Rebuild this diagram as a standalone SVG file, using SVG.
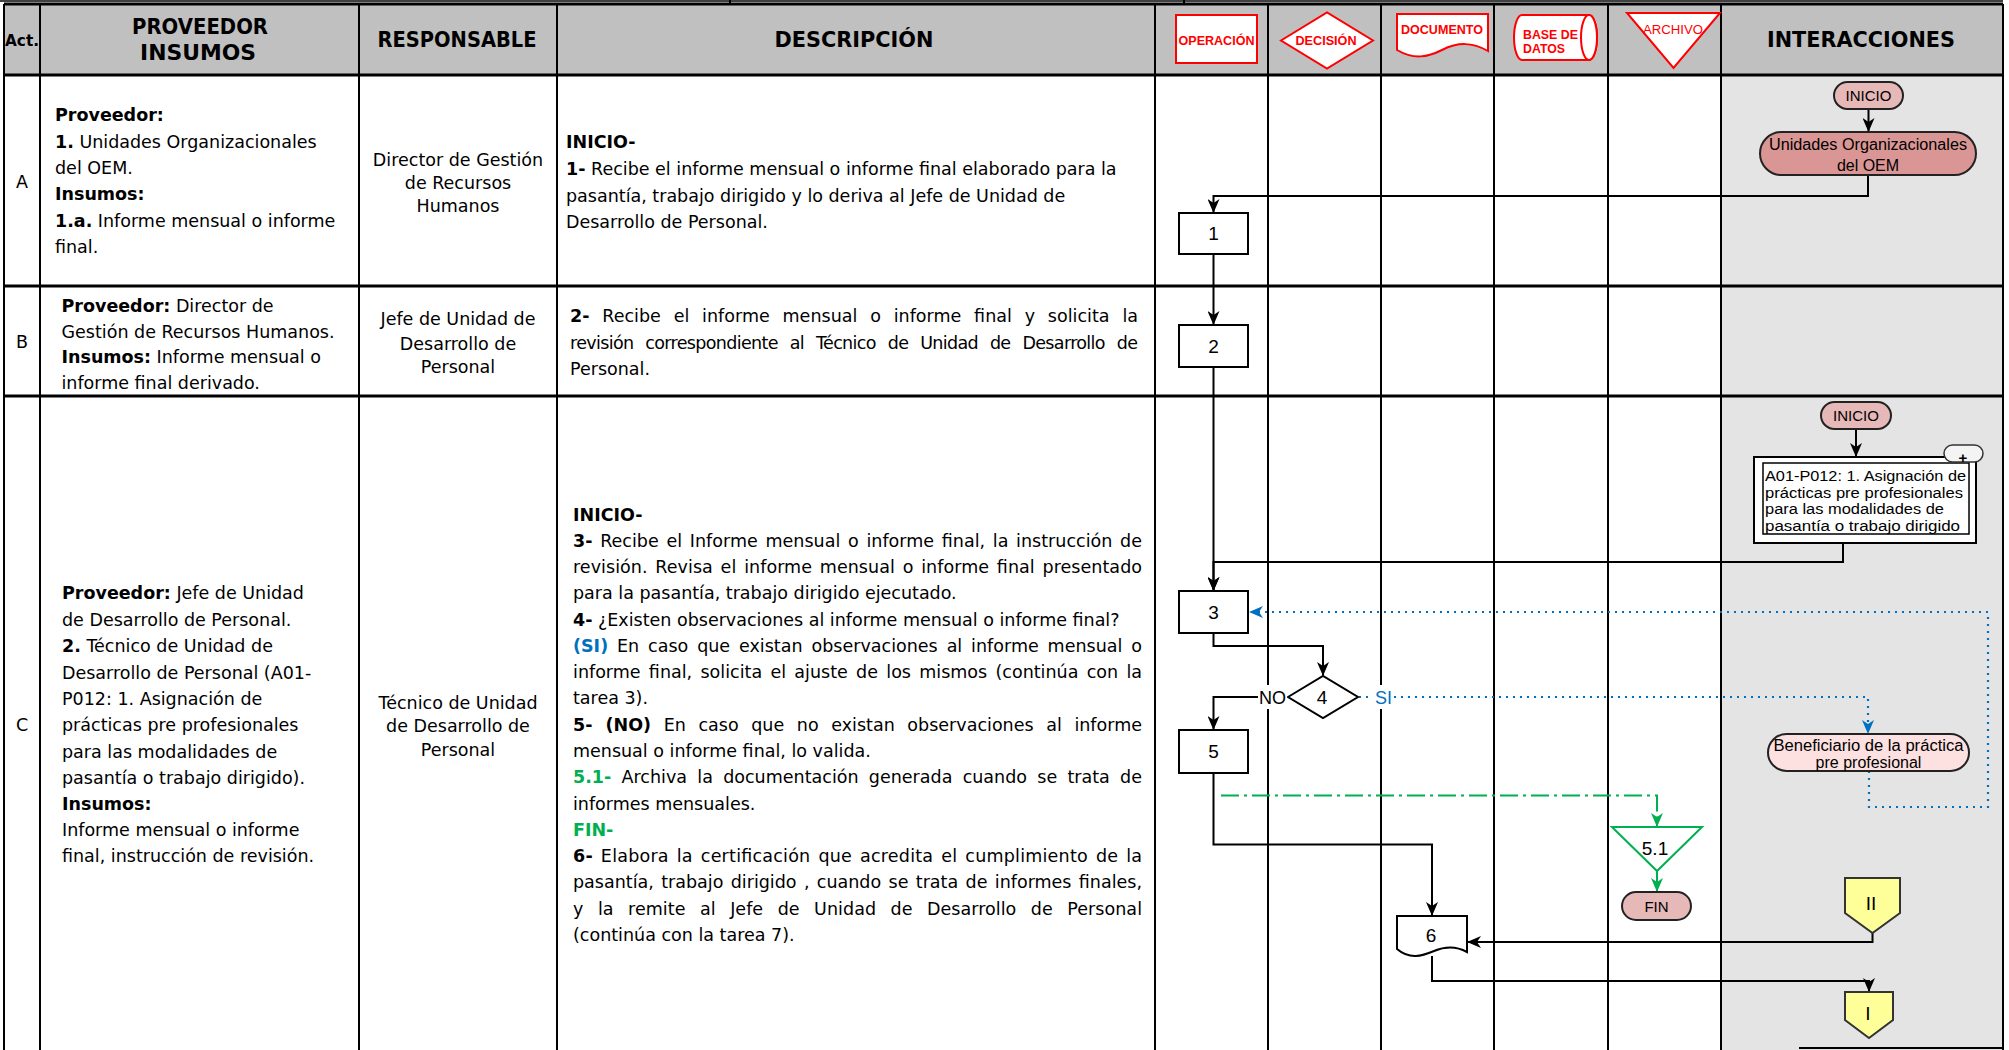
<svg xmlns="http://www.w3.org/2000/svg" width="2009" height="1050" viewBox="0 0 2009 1050">
<defs>
<style>
.t{font-family:"DejaVu Sans",Verdana,sans-serif;font-size:17.5px;fill:#000}
.c{text-anchor:middle}
.b{font-weight:bold}
.hd{font-family:"DejaVu Sans",Verdana,sans-serif;font-size:20.5px;font-weight:bold;text-anchor:middle;fill:#000}
.ic{font-family:"Liberation Sans",Arial,sans-serif;font-size:12px;font-weight:bold;fill:#ff0000}
.icm{text-anchor:middle}
.ics{fill:#fff;stroke:#ff0000;stroke-width:2}
.fc{font-family:"Liberation Sans",Arial,sans-serif;fill:#000;text-anchor:middle}
.box{fill:#fff;stroke:#000;stroke-width:2}
.pill{fill:#e6b8b7;stroke:#222;stroke-width:2}
.off{fill:#ffff99;stroke:#333;stroke-width:2}
.ln{fill:none;stroke:#000;stroke-width:2}
.lng{fill:none;stroke:#00b050;stroke-width:2}
.bl{fill:none;stroke:#0070c0;stroke-width:2.2;stroke-dasharray:2 5}
.gr{fill:none;stroke:#00b050;stroke-width:2;stroke-dasharray:18 5 3 5}
.gv{stroke:#000;stroke-width:2}
.gh{stroke:#000;stroke-width:3}
</style>
<marker id="ab" viewBox="0 0 14 12" refX="13" refY="6" markerWidth="14" markerHeight="12" markerUnits="userSpaceOnUse" orient="auto"><path d="M0,0 L14,6 L0,12 L4,6 Z" fill="#000"/></marker>
<marker id="abl" viewBox="0 0 14 12" refX="13" refY="6" markerWidth="14" markerHeight="12" markerUnits="userSpaceOnUse" orient="auto"><path d="M0,0 L14,6 L0,12 L4,6 Z" fill="#0070c0"/></marker>
<marker id="agr" viewBox="0 0 14 12" refX="13" refY="6" markerWidth="14" markerHeight="12" markerUnits="userSpaceOnUse" orient="auto"><path d="M0,0 L14,6 L0,12 L4,6 Z" fill="#00b050"/></marker>
</defs>

<g id="table">
<rect x="0" y="0" width="2009" height="1050" fill="#fff"/>
<rect x="4" y="4" width="1999" height="71" fill="#c0c0c0"/>
<rect x="1721" y="75" width="282" height="975" fill="#e4e4e4"/>
<line x1="0" y1="1" x2="2003" y2="1" stroke="#000" stroke-width="1.5"/>
<line x1="730" y1="0" x2="730" y2="4" class="gv"/>
<line x1="1184" y1="0" x2="1184" y2="4" class="gv"/>
<line x1="4" y1="4" x2="2003" y2="4" class="gh"/>
<line x1="4" y1="75" x2="2003" y2="75" class="gh"/>
<line x1="4" y1="286" x2="2003" y2="286" class="gh"/>
<line x1="4" y1="396" x2="2003" y2="396" class="gh"/>
<line x1="4" y1="4" x2="4" y2="1050" class="gv"/>
<line x1="40" y1="4" x2="40" y2="1050" class="gv"/>
<line x1="359" y1="4" x2="359" y2="1050" class="gv"/>
<line x1="557" y1="4" x2="557" y2="1050" class="gv"/>
<line x1="1155" y1="4" x2="1155" y2="1050" class="gv"/>
<line x1="1268" y1="4" x2="1268" y2="1050" class="gv"/>
<line x1="1381" y1="4" x2="1381" y2="1050" class="gv"/>
<line x1="1494" y1="4" x2="1494" y2="1050" class="gv"/>
<line x1="1608" y1="4" x2="1608" y2="1050" class="gv"/>
<line x1="1721" y1="4" x2="1721" y2="1050" class="gv"/>
<line x1="2003" y1="4" x2="2003" y2="1050" class="gv"/>
<line x1="1799" y1="1048" x2="2003" y2="1048" class="gv"/>
</g>

<g id="header">
<text class="hd" x="22" y="46" style="font-size:16px" textLength="34" lengthAdjust="spacingAndGlyphs">Act.</text>
<text class="hd" x="200" y="33.5" textLength="136" lengthAdjust="spacingAndGlyphs">PROVEEDOR</text>
<text class="hd" x="198" y="59.5" textLength="116" lengthAdjust="spacingAndGlyphs">INSUMOS</text>
<text class="hd" x="457" y="47" textLength="159" lengthAdjust="spacingAndGlyphs">RESPONSABLE</text>
<text class="hd" x="854" y="47" textLength="159" lengthAdjust="spacingAndGlyphs">DESCRIPCIÓN</text>
<text class="hd" x="1861" y="47" textLength="188" lengthAdjust="spacingAndGlyphs">INTERACCIONES</text>
<g id="icon-operacion"><rect class="ics" x="1176" y="15" width="81" height="48"/><text class="ic icm" x="1216.5" y="44.5" textLength="76" lengthAdjust="spacingAndGlyphs">OPERACIÓN</text></g>
<g id="icon-decision"><polygon class="ics" points="1281,40.5 1327,12.5 1373,40.5 1327,68.5"/><text class="ic icm" x="1326" y="45" textLength="61" lengthAdjust="spacingAndGlyphs">DECISIÓN</text></g>
<g id="icon-documento"><path class="ics" d="M1397,14 H1488 V51 C1472,42 1458,42 1442,50 C1428,57 1414,60 1397,50 Z"/><text class="ic icm" x="1442" y="33.5" textLength="82" lengthAdjust="spacingAndGlyphs">DOCUMENTO</text></g>
<g id="icon-basedatos"><path class="ics" d="M1522,15 H1589 A8,22.5 0 0 1 1589,60 H1522 A8,22.5 0 0 1 1522,15 Z"/><ellipse class="ics" cx="1589" cy="37.5" rx="8" ry="22.5"/><text class="ic" x="1523" y="38.5" style="font-size:12.5px" textLength="55" lengthAdjust="spacingAndGlyphs">BASE DE</text><text class="ic" x="1523" y="52.5" style="font-size:12.5px" textLength="42" lengthAdjust="spacingAndGlyphs">DATOS</text></g>
<g id="icon-archivo"><polygon class="ics" points="1627,13 1720,13 1673.5,68"/><text class="ic icm" x="1673" y="33.5" style="font-weight:normal" textLength="60" lengthAdjust="spacingAndGlyphs">ARCHIVO</text></g>
</g>

<g id="row-A">
<text class="t c" x="22" y="188">A</text>
<text class="t" x="55" y="121"><tspan class="b">Proveedor:</tspan></text>
<text class="t" x="55" y="147.5"><tspan class="b">1.</tspan> Unidades Organizacionales</text>
<text class="t" x="55" y="174">del OEM.</text>
<text class="t b" x="55" y="200">Insumos:</text>
<text class="t" x="55" y="226.5"><tspan class="b">1.a.</tspan> Informe mensual o informe</text>
<text class="t" x="55" y="252.5">final.</text>
<text class="t c" x="458" y="166">Director de Gestión</text>
<text class="t c" x="458" y="189">de Recursos</text>
<text class="t c" x="458" y="212">Humanos</text>
<text class="t b" x="566" y="148">INICIO-</text>
<text class="t" x="566" y="175"><tspan class="b">1-</tspan> Recibe el informe mensual o informe final elaborado para la</text>
<text class="t" x="566" y="201.5">pasantía, trabajo dirigido y lo deriva al Jefe de Unidad de</text>
<text class="t" x="566" y="227.5">Desarrollo de Personal.</text>
</g>

<g id="row-B">
<text class="t c" x="22" y="348">B</text>
<text class="t" x="61.5" y="312"><tspan class="b">Proveedor:</tspan> Director de</text>
<text class="t" x="61.5" y="337.5">Gestión de Recursos Humanos.</text>
<text class="t" x="61.5" y="363"><tspan class="b">Insumos:</tspan> Informe mensual o</text>
<text class="t" x="61.5" y="389">informe final derivado.</text>
<text class="t c" x="458" y="325">Jefe de Unidad de</text>
<text class="t c" x="458" y="349.5">Desarrollo de</text>
<text class="t c" x="458" y="373">Personal</text>
<text class="t" x="570" y="322" word-spacing="7.2" textLength="568"><tspan class="b">2-</tspan> Recibe el informe mensual o informe final y solicita la</text>
<text class="t" x="570" y="348.5" word-spacing="7" textLength="568">revisión correspondiente al Técnico de Unidad de Desarrollo de</text>
<text class="t" x="570" y="375">Personal.</text>
</g>

<g id="row-C">
<text class="t c" x="22" y="731">C</text>
<text class="t" x="62" y="599"><tspan class="b">Proveedor:</tspan> Jefe de Unidad</text>
<text class="t" x="62" y="625.5">de Desarrollo de Personal.</text>
<text class="t" x="62" y="652"><tspan class="b">2.</tspan> Técnico de Unidad de</text>
<text class="t" x="62" y="678.5">Desarrollo de Personal (A01-</text>
<text class="t" x="62" y="704.5">P012: 1. Asignación de</text>
<text class="t" x="62" y="731">prácticas pre profesionales</text>
<text class="t" x="62" y="757.5">para las modalidades de</text>
<text class="t" x="62" y="783.5">pasantía o trabajo dirigido).</text>
<text class="t b" x="62" y="809.5">Insumos:</text>
<text class="t" x="62" y="836">Informe mensual o informe</text>
<text class="t" x="62" y="862">final, instrucción de revisión.</text>
<text class="t c" x="458" y="708.5">Técnico de Unidad</text>
<text class="t c" x="458" y="732">de Desarrollo de</text>
<text class="t c" x="458" y="756">Personal</text>
<text class="t b" x="573" y="520.5">INICIO-</text>
<text class="t" x="573" y="546.8" word-spacing="2.1" textLength="569"><tspan class="b">3-</tspan> Recibe el Informe mensual o informe final, la instrucción de</text>
<text class="t" x="573" y="573" word-spacing="2.2" textLength="569">revisión. Revisa el informe mensual o informe final presentado</text>
<text class="t" x="573" y="599.3">para la pasantía, trabajo dirigido ejecutado.</text>
<text class="t" x="573" y="625.6"><tspan class="b">4-</tspan> ¿Existen observaciones al informe mensual o informe final?</text>
<text class="t" x="573" y="651.9" word-spacing="3.3" textLength="569"><tspan class="b" style="fill:#0070c0">(SI)</tspan> En caso que existan observaciones al informe mensual o</text>
<text class="t" x="573" y="678.1" word-spacing="2.7" textLength="569">informe final, solicita el ajuste de los mismos (continúa con la</text>
<text class="t" x="573" y="704.4">tarea 3).</text>
<text class="t" x="573" y="730.7" word-spacing="7" textLength="569"><tspan class="b">5- (NO)</tspan> En caso que no existan observaciones al informe</text>
<text class="t" x="573" y="756.9">mensual o informe final, lo valida.</text>
<text class="t" x="573" y="783.2" word-spacing="4.7" textLength="569"><tspan class="b" style="fill:#00b050">5.1-</tspan> Archiva la documentación generada cuando se trata de</text>
<text class="t" x="573" y="809.5">informes mensuales.</text>
<text class="t b" x="573" y="835.7" style="fill:#00b050">FIN-</text>
<text class="t" x="573" y="862" word-spacing="2.2" textLength="569"><tspan class="b">6-</tspan> Elabora la certificación que acredita el cumplimiento de la</text>
<text class="t" x="573" y="888.3" word-spacing="1.8" textLength="569">pasantía, trabajo dirigido , cuando se trata de informes finales,</text>
<text class="t" x="573" y="914.6" word-spacing="8.9" textLength="569">y la remite al Jefe de Unidad de Desarrollo de Personal</text>
<text class="t" x="573" y="940.8">(continúa con la tarea 7).</text>
</g>

<g id="connectors">
<path class="ln" d="M1868.5,109 V131" marker-end="url(#ab)"/>
<path class="ln" d="M1868,175 V196 H1213.5 V212" marker-end="url(#ab)"/>
<path class="ln" d="M1213.5,254 V324" marker-end="url(#ab)"/>
<path class="ln" d="M1213.5,367 V590" marker-end="url(#ab)"/>
<path class="ln" d="M1856,429 V456" marker-end="url(#ab)"/>
<path class="ln" d="M1843,543 V562 H1213.5 V590" marker-end="url(#ab)"/>
<path class="ln" d="M1213.5,633 V646 H1323 V675" marker-end="url(#ab)"/>
<path class="ln" d="M1259,697 H1213.5 V729" marker-end="url(#ab)"/>
<path class="bl" d="M1359,697 H1372"/>
<path class="bl" d="M1394,697 H1868 V733" marker-end="url(#abl)"/>
<path class="bl" d="M1869,771 V807 H1988 V612 H1250" marker-end="url(#abl)"/>
<path class="gr" d="M1221,795.5 H1657 V826" marker-end="url(#agr)"/>
<path class="lng" d="M1657,871 V891" marker-end="url(#agr)"/>
<path class="ln" d="M1213.5,773 V844.5 H1432 V915" marker-end="url(#ab)"/>
<path class="ln" d="M1872.5,933 V942 H1468" marker-end="url(#ab)"/>
<path class="ln" d="M1432,956 V981 H1869 V991" marker-end="url(#ab)"/>
</g>

<g id="n-inicio-a"><rect class="pill" x="1834" y="82" width="69" height="27" rx="13.5"/><text class="fc" x="1868.5" y="101" font-size="15">INICIO</text></g>
<g id="n-unidades"><rect x="1760" y="132" width="216" height="43" rx="21.5" fill="#da9694" stroke="#222" stroke-width="2"/><text class="fc" x="1868" y="149.5" font-size="16" textLength="198" lengthAdjust="spacingAndGlyphs">Unidades Organizacionales</text><text class="fc" x="1868" y="171" font-size="16">del OEM</text></g>
<g id="n-1"><rect class="box" x="1179" y="213" width="69" height="41"/><text class="fc" x="1213.5" y="240" font-size="19">1</text></g>
<g id="n-2"><rect class="box" x="1179" y="325" width="69" height="42"/><text class="fc" x="1213.5" y="352.5" font-size="19">2</text></g>
<g id="n-inicio-c"><rect class="pill" x="1821" y="402" width="70" height="27" rx="13.5"/><text class="fc" x="1856" y="421" font-size="15">INICIO</text></g>
<g id="n-subproceso">
<rect x="1754" y="457" width="222" height="86" fill="#fff" stroke="#000" stroke-width="2"/>
<rect x="1763" y="463" width="206" height="71" fill="#fff" stroke="#000" stroke-width="1.5"/>
<rect x="1944" y="445" width="39" height="17" rx="8.5" fill="#f4f4f4" stroke="#333" stroke-width="1.5"/>
<text x="1963" y="463" font-family="Liberation Sans,Arial,sans-serif" font-size="15" font-weight="bold" text-anchor="middle">+</text>
<text x="1765" y="481" font-family="Liberation Sans,Arial,sans-serif" font-size="15.5" textLength="201" lengthAdjust="spacingAndGlyphs">A01-P012: 1. Asignación de</text>
<text x="1765" y="497.5" font-family="Liberation Sans,Arial,sans-serif" font-size="15.5" textLength="198" lengthAdjust="spacingAndGlyphs">prácticas pre profesionales</text>
<text x="1765" y="514" font-family="Liberation Sans,Arial,sans-serif" font-size="15.5" textLength="179" lengthAdjust="spacingAndGlyphs">para las modalidades de</text>
<text x="1765" y="530.5" font-family="Liberation Sans,Arial,sans-serif" font-size="15.5" textLength="195" lengthAdjust="spacingAndGlyphs">pasantía o trabajo dirigido</text>
</g>
<g id="n-3"><rect class="box" x="1179" y="591" width="69" height="42"/><text class="fc" x="1213.5" y="619" font-size="19">3</text></g>
<g id="n-4"><polygon class="box" points="1288,697 1323,676 1358,697 1323,718"/><text class="fc" x="1322" y="704" font-size="19">4</text>
<rect x="1258" y="685" width="29" height="24" fill="#fff"/><text class="fc" x="1272.5" y="704" font-size="18">NO</text>
<rect x="1373" y="685" width="20" height="24" fill="#fff"/><text class="fc" x="1383.5" y="704" font-size="18" style="fill:#0070c0">SI</text></g>
<g id="n-5"><rect class="box" x="1179" y="730" width="69" height="43"/><text class="fc" x="1213.5" y="758" font-size="19">5</text></g>
<g id="n-beneficiario"><rect x="1768" y="734" width="201" height="37" rx="18.5" fill="#fde0e0" stroke="#222" stroke-width="2"/><text class="fc" x="1868.5" y="751" font-size="16" textLength="190" lengthAdjust="spacingAndGlyphs">Beneficiario de la práctica</text><text class="fc" x="1868.5" y="768" font-size="16">pre profesional</text></g>
<g id="n-5-1"><polygon points="1612,827 1702,827 1657,871" fill="#fff" stroke="#00b050" stroke-width="2"/><text class="fc" x="1655" y="855" font-size="19">5.1</text></g>
<g id="n-fin"><rect class="pill" x="1622" y="892" width="69" height="28" rx="14"/><text class="fc" x="1656.5" y="911.5" font-size="15">FIN</text></g>
<g id="n-6"><path class="box" d="M1397,916 H1467 V952 C1456,946 1446,946 1434,951 C1422,956 1410,960 1397,949 Z"/><text class="fc" x="1431" y="942" font-size="19">6</text></g>
<g id="n-II"><polygon class="off" points="1845,878 1900,878 1900,913 1872.5,933 1845,913"/><text class="fc" x="1871" y="910" font-size="19">II</text></g>
<g id="n-I"><polygon class="off" points="1845,992 1893,992 1893,1020 1869,1038 1845,1020"/><text class="fc" x="1868" y="1020" font-size="19">I</text></g>
</svg>
